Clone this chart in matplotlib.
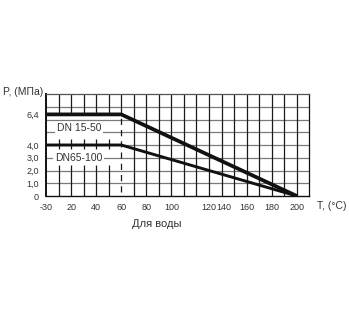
import numpy as np
import matplotlib
matplotlib.use('Agg')
import matplotlib.pyplot as plt

plt.rcParams['font.family'] = ['Liberation Sans', 'DejaVu Sans']

# Data
temp_dn15 = [-30, 60, 200]
pres_dn15 = [6.4, 6.4, 0.0]
temp_dn65 = [-30, 60, 200]
pres_dn65 = [4.0, 4.0, 0.0]
series_labels = ['DN 15-50', 'DN65-100']
x_tick_labels = ['-30', '20', '40', '60', '80', '100', '120', '140', '160', '180', '200']
x_tick_pos = [-30, 20, 40, 60, 80, 100, 130, 142, 160, 180, 200]
y_tick_vals = [0, 1, 2, 3, 4, 6.4]
y_tick_labels = ['0', '1,0', '2,0', '3,0', '4,0', '6,4']


def fwd(t):
    t = np.asarray(t, float)
    return np.where(t < 20, (t + 30) * 0.4, t)


def inv(p):
    p = np.asarray(p, float)
    return np.where(p < 20, p / 0.4 - 30, p)


fig = plt.figure(figsize=(3.49, 3.2), dpi=100)
ax = fig.add_axes([0.1318, 0.3875, 0.7545, 0.31875])
ax.set_xscale('function', functions=(fwd, inv))
ax.set_xlim(-30, 210)
ax.set_ylim(0, 8)

# horizontal grid
ax.hlines(np.arange(1, 8), -30, 210, color='#7a7a7a', lw=0.9, zorder=1)

# vertical grid (in scale positions)
vcol = '#1a1a1a'
for pos in range(10, 210, 10):
    t = float(inv(pos))
    if pos < 60:
        for y0, y1 in [(0, 2.45), (3.67, 4.44), (6.4, 8)]:
            ax.vlines(t, y0, y1, color=vcol, lw=0.9, zorder=1)
    elif pos == 60:
        ax.vlines(t, 6.4, 8, color=vcol, lw=0.9, zorder=1)
        ax.vlines(t, 0.3, 6.4, color=vcol, lw=0.9, zorder=1,
                  linestyles=(0, (5, 4)))
    else:
        ax.vlines(t, 0, 8, color=vcol, lw=0.9, zorder=1)

# series lines
ax.plot(temp_dn15, pres_dn15, color='#111111', lw=2.7, zorder=4,
        solid_joinstyle='miter', solid_capstyle='butt')
ax.plot(temp_dn65, pres_dn65, color='#111111', lw=2.1, zorder=4,
        solid_joinstyle='miter', solid_capstyle='butt')

# series labels
bb = dict(boxstyle='square,pad=0.15', fc='white', ec='none')
ax.text(float(inv(8.7)), 5.3, series_labels[0], fontsize=7.5, color='#333333',
        ha='left', va='center', zorder=3, bbox=bb)
ax.text(float(inv(7.2)), 3.0, series_labels[1], fontsize=7.5, color='#333333',
        ha='left', va='center', zorder=3, bbox=bb)

# ticks
ax.set_xticks(x_tick_pos)
ax.set_xticklabels(x_tick_labels)
ax.set_yticks(y_tick_vals)
ax.set_yticklabels(y_tick_labels)
ax.minorticks_off()
ax.tick_params(axis='both', length=0, labelsize=6.5, colors='#333333')
ax.tick_params(axis='x', pad=5)
ax.tick_params(axis='y', pad=5)

for s in ['left', 'bottom', 'right', 'top']:
    ax.spines[s].set_color('#111111')
ax.spines['left'].set_linewidth(1.4)
ax.spines['bottom'].set_linewidth(1.0)
ax.spines['right'].set_linewidth(0.9)
ax.spines['top'].set_linewidth(0.9)
ax.spines['top'].set_color('#555555')

fig.text(3 / 349, 1 - 92 / 320, 'P, (МПа)', fontsize=7.5, color='#333333',
         ha='left', va='center')
fig.text(317 / 349, 1 - 206 / 320, 'T, (°C)', fontsize=7.5, color='#333333',
         ha='left', va='center')
fig.text(156.7 / 349, 1 - 224 / 320, 'Для воды', fontsize=8, color='#333333',
         ha='center', va='center')

fig.savefig('out.png', dpi=100, facecolor='white')
